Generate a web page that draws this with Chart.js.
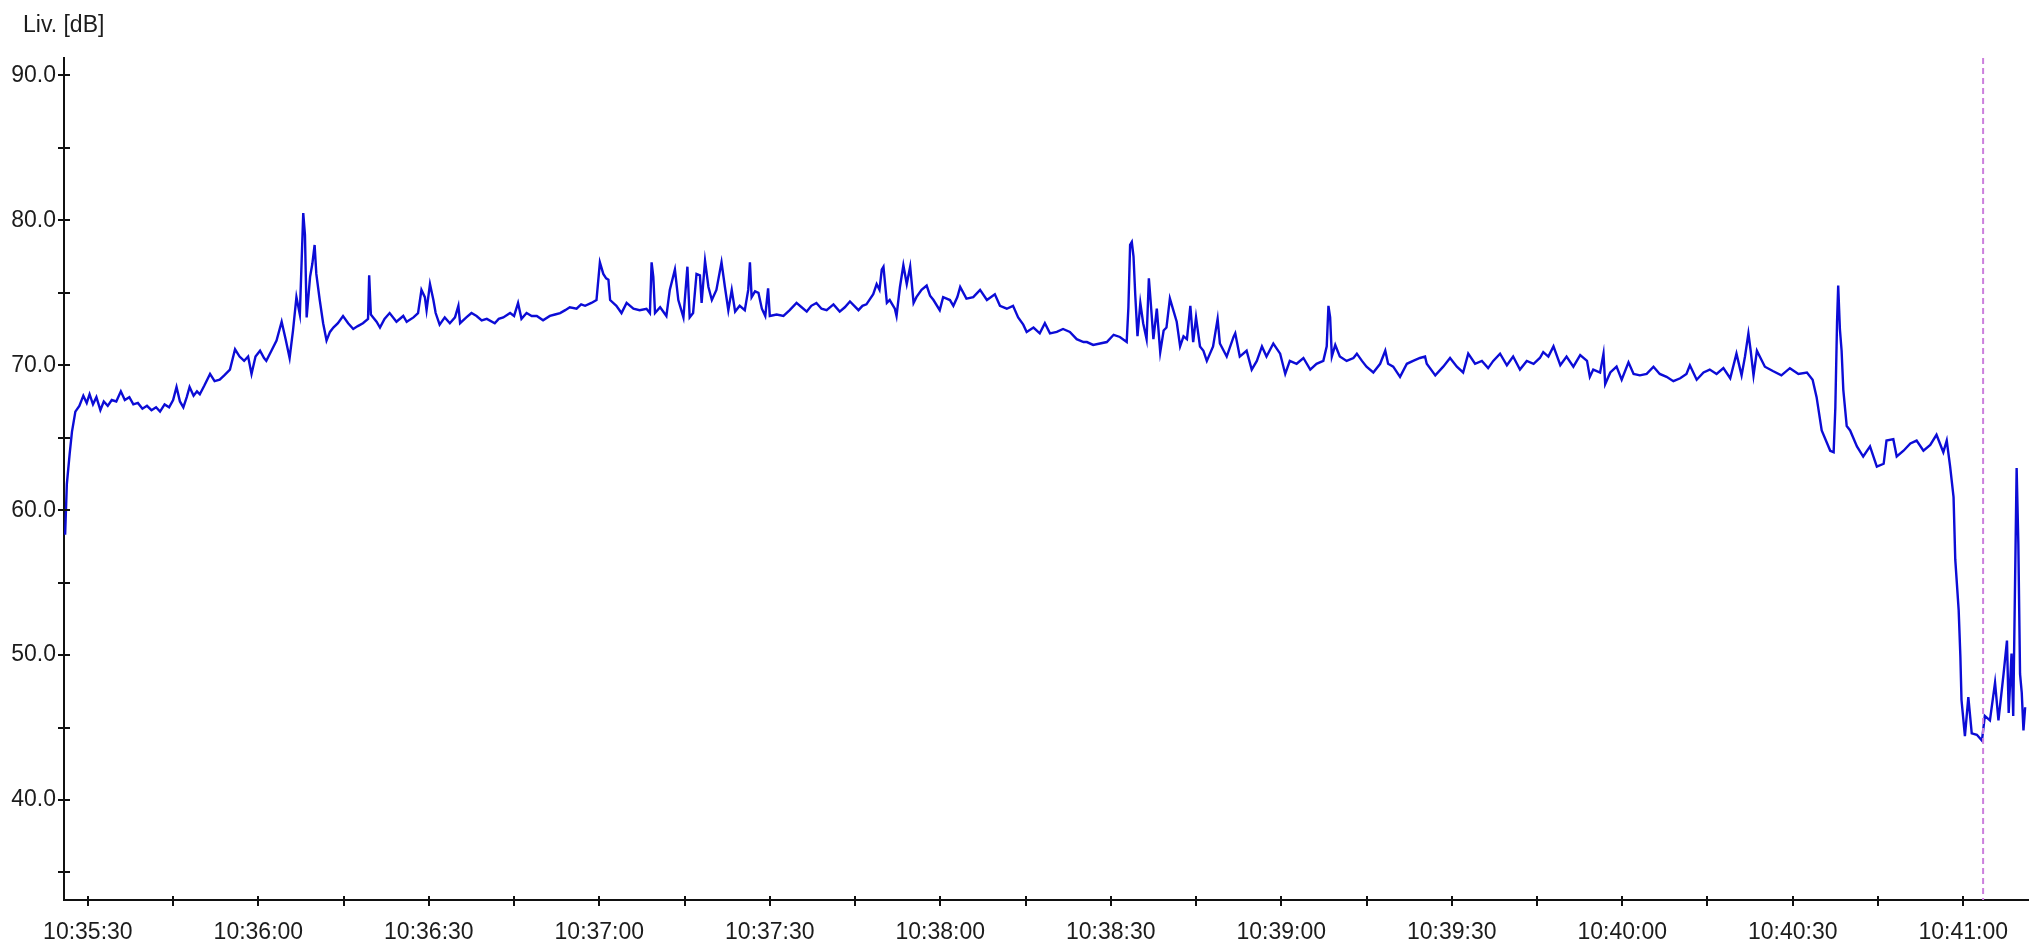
<!DOCTYPE html>
<html>
<head>
<meta charset="utf-8">
<script src="https://cdn.jsdelivr.net/npm/chart.js@4.4.1/dist/chart.umd.min.js"></script>
<style>
html,body{margin:0;padding:0;background:#fff;}
#wrap{width:2044px;height:950px;position:relative;}
</style>
</head>
<body>
<div id="wrap"><canvas id="c" width="2044" height="950"></canvas></div>
<script>
// ---- data (seconds after 10:35:00, level in dB) ----
const times = [
26,26.3,26.8,27.2,27.8,28.5,29.2,29.8,30.3,30.9,31.5,32.2,32.8,33.5,34.2,35,35.8,36.5,37.3,38,38.8,39.6,40.4,41.2,42,42.7,43.5,44.3,45,45.6,46.2,46.8,47.4,47.9,48.6,49.2,49.7,50.5,51.5,52.3,53.2,54,55,55.9,56.7,57.5,58.2,58.8,59.5,60.3,61,61.4,62.3,63.2,64.1,64.8,65.5,66.1,66.7,67.3,67.6,67.9,68.2,68.5,69.1,69.5,69.9,70.2,70.8,71.4,72.0,72.6,73.2,74,74.9,75.8,76.7,77.5,78.4,79.3,79.5,79.8,80.2,80.8,81.4,82.2,83.1,84.3,85.5,
86.1,87.3,88.1,88.7,89.3,89.6,90.2,90.8,91.2,91.9,92.8,93.7,94.6,95.2,95.5,96.6,97.5,98.4,99.3,100.2,101.6,102.3,103.1,104.3,105.0,105.7,106.3,107.2,108.1,109.0,110.1,111.3,112.2,113.1,114.0,114.8,116.0,116.8,117.5,118.6,119.5,120.1,120.7,121.2,121.6,121.9,123.0,123.9,124.8,126.0,127.1,128.3,128.9,129.2,129.5,129.8,130.7,131.8,132.4,133.3,133.9,134.8,135.5,135.9,136.5,137.1,137.7,138.0,138.6,139.2,139.8,140.6,141.5,142.1,142.7,143.3,143.9,144.7,145.6,
146.2,146.5,146.8,147.4,148.0,148.6,149.2,149.7,150.0,151.2,152.4,153.5,154.7,155.6,156.5,157.3,158.2,159.1,160.0,161.2,162.3,163.2,164.1,165.6,166.3,167.0,168.2,168.8,169.3,169.7,170.0,170.6,171.1,172.0,172.3,172.9,173.5,174.1,174.7,175.3,175.8,176.7,177.6,178.2,178.8,179.9,180.5,181.7,182.3,183.0,183.5,184.6,185.8,187.0,188.2,189.6,190.5,191.7,192.8,193.7,194.6,195.2,196.4,197.5,198.4,199.3,200.5,201.6,202.8,204.0,205.2,
205.8,206.9,208.1,209.3,210.5,211.6,212.8,213.1,213.4,213.7,214.0,214.3,214.7,215.2,215.7,216.3,216.7,217.0,217.5,218.1,218.7,219.3,219.8,220.4,221.0,221.6,222.2,222.8,223.4,224.0,224.5,225.0,225.7,226.3,226.9,228.0,228.8,229.2,230.4,231.6,231.9,232.7,233.9,234.8,235.7,236.6,237.4,238.6,239.8,240.7,241.5,242.7,243.9,245.1,246.2,247.4,248.0,248.3,248.6,248.9,249.5,250.3,251.5,252.7,253.3,254.2,255.0,256.2,257.4,258.3,258.8,259.7,260.9,262.1,263.2,264.4,265.3,
265.6,267.1,268.5,269.7,270.9,272.0,272.9,274.1,275.3,276.4,277.3,278.5,279.7,280.8,282.0,283.2,284.4,285.5,286.1,287.0,287.9,289.1,290.2,291.4,292.6,293.8,294.3,294.9,296.1,296.7,297.0,297.9,299.0,299.9,301.1,302.0,303.1,304.3,305.5,306.6,307.8,309.0,310.2,311.3,311.9,313.1,314.3,315.4,316.6,317.8,319.0,320.1,321.0,321.6,322.2,322.6,323.1,323.7,324.2,325.1,
326.5,328,329.5,331,332.5,333.5,334.2,335.1,336.6,337.2,337.5,337.8,338.0,338.3,338.6,338.9,339.5,340.1,341.3,342.4,343.6,344.8,346.0,346.5,347.7,348.3,349.5,350.7,351.8,353.0,354.2,355.3,356.5,357.1,357.7,358.3,358.6,359.2,359.5,359.7,360.3,360.9,361.5,362.4,363.3,363.8,364.7,365.6,366.2,367.1,367.7,368.0,368.5,368.8,369.4,369.7,370.0,370.3,370.6,370.9
];
const levels = [
58.3,61.8,63.9,65.4,66.8,67.2,67.9,67.4,68.0,67.3,67.8,66.9,67.5,67.2,67.6,67.5,68.2,67.6,67.8,67.3,67.4,67.0,67.2,66.9,67.1,66.8,67.3,67.1,67.6,68.5,67.5,67.1,67.8,68.5,67.9,68.2,68.0,68.6,69.4,68.9,69.0,69.3,69.7,71.1,70.6,70.3,70.6,69.4,70.6,71.0,70.5,70.3,71.0,71.7,73.0,71.8,70.5,72.4,74.7,73.5,77.0,80.5,79.0,73.3,76.1,77.0,78.3,76.3,74.5,72.9,71.7,72.3,72.6,72.9,73.4,72.9,72.5,72.7,72.9,73.2,76.2,73.5,73.3,73.0,72.6,73.2,73.6,73.0,73.4,
73.0,73.3,73.6,75.2,74.7,73.8,75.6,74.5,73.6,72.8,73.3,72.9,73.3,74.1,72.9,73.3,73.6,73.4,73.1,73.2,72.9,73.2,73.3,73.6,73.4,74.3,73.2,73.6,73.4,73.4,73.1,73.4,73.5,73.6,73.8,74.0,73.9,74.2,74.1,74.3,74.5,77.1,76.3,76.0,75.9,74.5,74.1,73.6,74.3,73.9,73.8,73.9,73.6,77.1,76.1,73.6,74.0,73.4,75.2,76.6,74.5,73.3,76.8,73.3,73.6,76.3,76.2,74.3,77.2,75.4,74.5,75.2,77.1,75.4,73.8,75.2,73.7,74.1,73.8,
75.2,77.1,74.7,75.1,75.0,73.9,73.4,75.3,73.4,73.5,73.4,73.8,74.3,74.0,73.7,74.1,74.3,73.9,73.8,74.2,73.7,74.0,74.4,73.8,74.1,74.2,74.9,75.6,75.2,76.6,76.8,74.3,74.5,73.9,73.4,75.4,76.9,75.6,76.8,74.3,74.7,75.2,75.5,74.8,74.5,73.8,74.7,74.5,74.1,74.7,75.4,74.6,74.7,75.2,74.5,74.9,74.1,73.9,74.1,73.3,72.8,72.3,72.6,72.2,72.9,72.2,72.3,72.5,72.3,71.8,71.6,
71.6,71.4,71.5,71.6,72.1,71.95,71.6,74.0,78.3,78.5,77.5,74.9,72.0,74.3,72.9,71.8,76.0,74.5,71.8,73.9,70.9,72.4,72.6,74.6,73.8,73.0,71.3,72.0,71.8,74.1,71.6,73.3,71.3,71.0,70.3,71.3,73.2,71.5,70.6,71.95,72.2,70.6,71.0,69.7,70.3,71.3,70.6,71.5,70.8,69.4,70.3,70.1,70.5,69.7,70.1,70.3,71.3,74.1,73.3,70.6,71.4,70.6,70.3,70.5,70.8,70.3,69.9,69.5,70.1,71.0,70.1,69.9,69.2,70.1,70.3,70.5,70.6,
70.1,69.3,69.9,70.5,69.9,69.5,70.8,70.1,70.3,69.8,70.3,70.8,70.0,70.6,69.7,70.3,70.1,70.5,70.9,70.6,71.3,70.0,70.6,69.9,70.7,70.3,69.2,69.7,69.5,70.8,68.7,69.5,69.9,69.0,70.2,69.4,69.3,69.4,69.9,69.4,69.2,68.9,69.1,69.4,70.0,69.0,69.5,69.7,69.4,69.8,69.1,70.8,69.3,70.6,72.2,71.0,69.3,71.0,70.6,69.9,
69.6,69.3,69.8,69.4,69.5,69.0,67.8,65.5,64.1,64.0,67.1,73.0,75.5,72.5,71.0,68.3,65.8,65.5,64.4,63.7,64.4,63.0,63.2,64.8,64.9,63.7,64.1,64.6,64.8,64.1,64.5,65.2,64.0,64.8,63.0,60.9,56.6,53.1,49.9,46.9,44.4,47.1,44.6,44.5,44.1,45.8,45.5,48.1,45.5,48.7,51.0,46.0,50.1,45.8,62.9,57.7,48.7,47.4,44.8,46.4
];
const xMajorTicks = [30,60,90,120,150,180,210,240,270,300,330,360];
const xTickLabels = ['10:35:30','10:36:00','10:36:30','10:37:00','10:37:30','10:38:00','10:38:30','10:39:00','10:39:30','10:40:00','10:40:30','10:41:00'];
const xMinorTicks = [45,75,105,135,165,195,225,255,285,315,345];
const yMajorTicks = [40,50,60,70,80,90];
const yTickLabels = ['40.0','50.0','60.0','70.0','80.0','90.0'];
const yMinorTicks = [35,45,55,65,75,85];
const cursorTime = 363.5;
const yAxisTitle = 'Liv. [dB]';

// ---- chart ----
const FONT = {family: "'Liberation Sans', Arial, sans-serif", size: 23};
const TEXT = '#1c1c1c';
const AXIS = '#111111';

const points = times.map((t, i) => ({x: t, y: levels[i]}));

const axisDecor = {
  id: 'axisDecor',
  afterDraw(chart) {
    const ctx = chart.ctx, xs = chart.scales.x, ys = chart.scales.y, ca = chart.chartArea;
    ctx.save();
    // cursor (dashed vertical line)
    const cx = xs.getPixelForValue(cursorTime);
    ctx.strokeStyle = 'rgb(204,128,222)';
    ctx.lineWidth = 2;
    ctx.setLineDash([6, 4]);
    ctx.beginPath();
    ctx.moveTo(cx, ca.top);
    ctx.lineTo(cx, ca.bottom);
    ctx.stroke();
    ctx.setLineDash([]);
    // tick marks crossing the axes
    ctx.strokeStyle = AXIS;
    ctx.lineWidth = 2;
    ctx.beginPath();
    [...yMajorTicks, ...yMinorTicks].forEach(v => {
      const y = Math.round(ys.getPixelForValue(v));
      ctx.moveTo(ca.left - 6, y);
      ctx.lineTo(ca.left + 6, y);
    });
    [...xMajorTicks, ...xMinorTicks].forEach(v => {
      const x = Math.round(xs.getPixelForValue(v));
      ctx.moveTo(x, ca.bottom - 4);
      ctx.lineTo(x, ca.bottom + 6);
    });
    ctx.stroke();
    // axis title
    ctx.fillStyle = TEXT;
    ctx.font = `${FONT.size}px ${FONT.family}`;
    ctx.textAlign = 'left';
    ctx.textBaseline = 'middle';
    ctx.fillText(yAxisTitle, 23, 26);
    ctx.restore();
  }
};

new Chart(document.getElementById('c'), {
  type: 'line',
  data: {
    datasets: [{
      data: points,
      borderColor: '#0c0cd6',
      borderWidth: 2.4,
      pointRadius: 0,
      tension: 0,
      fill: false
    }]
  },
  options: {
    responsive: false,
    animation: false,
    events: [],
    layout: {padding: {top: 58, right: 16, left: 0, bottom: 0}},
    plugins: {legend: {display: false}, tooltip: {enabled: false}, title: {display: false}},
    scales: {
      x: {
        type: 'linear',
        min: 25.8,
        max: 371.4,
        grid: {display: false, drawTicks: false},
        border: {display: true, color: AXIS, width: 2},
        afterBuildTicks(scale) {
          scale.ticks = xMajorTicks.map(v => ({value: v}));
        },
        afterFit(scale) { scale.height = 50; },
        ticks: {
          autoSkip: false,
          maxRotation: 0,
          padding: 19,
          color: TEXT,
          font: FONT,
          callback(v) {
            const i = xMajorTicks.indexOf(v);
            return i >= 0 ? xTickLabels[i] : '';
          }
        }
      },
      y: {
        type: 'linear',
        min: 33.1,
        max: 91.2,
        grid: {display: false, drawTicks: false},
        border: {display: true, color: AXIS, width: 2},
        afterBuildTicks(scale) {
          scale.ticks = yMajorTicks.map(v => ({value: v}));
        },
        afterFit(scale) { scale.width = 64; },
        ticks: {
          autoSkip: false,
          padding: 8,
          color: TEXT,
          font: FONT,
          callback(v) {
            const i = yMajorTicks.indexOf(v);
            return i >= 0 ? yTickLabels[i] : '';
          }
        }
      }
    }
  },
  plugins: [axisDecor]
});
</script>
</body>
</html>
